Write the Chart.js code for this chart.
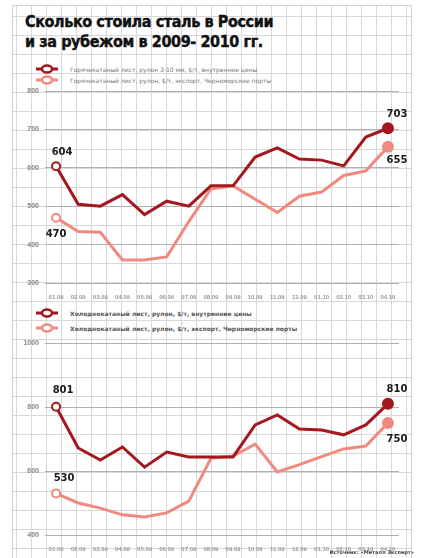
<!DOCTYPE html>
<html>
<head>
<meta charset="utf-8">
<script src="https://cdn.jsdelivr.net/npm/chart.js@4/dist/chart.umd.min.js"></script>
<style>
  body { margin: 0; width: 422px; height: 558px; background: #fff; overflow: hidden; position: relative; font-family: "DejaVu Sans", sans-serif; }
  #paper {
    position: absolute; left: 12px; top: 5px; width: 398px; height: 552px;
    border: 1px solid #d0d0d0;
    background-image: linear-gradient(#d8d8d8 1px, transparent 1px), linear-gradient(90deg, #d8d8d8 1px, transparent 1px);
    background-size: 15px 19px;
    background-position: 3px 10px;
  }
  .title { position: absolute; left: 25px; font-family: "DejaVu Sans Condensed", "DejaVu Sans", sans-serif; font-weight: bold; font-size: 16px; color: #111; letter-spacing: -0.4px; white-space: nowrap; -webkit-text-stroke: 0.4px #111; }
  .leg { position: absolute; left: 36px; height: 10px; font-size: 6px; color: #777; white-space: nowrap; display: flex; align-items: center; }
  .leg svg { margin-right: 12px; }
  .leg.bold { font-weight: bold; color: #555; }
  canvas { position: absolute; left: 0; }
  .src { position: absolute; right: 8px; top: 549px; font-size: 5px; color: #444; font-weight: bold; }
</style>
</head>
<body>
<div id="paper"></div>
<div class="title" style="top:12px">Сколько стоила сталь в России</div>
<div class="title" style="top:32px">и за рубежом в 2009- 2010 гг.</div>

<div class="leg" style="top:64px"><svg width="22" height="10"><line x1="0" y1="5" x2="22" y2="5" stroke="#a3181e" stroke-width="3"/><ellipse cx="11" cy="5" rx="5" ry="3.5" fill="#fff" stroke="#a3181e" stroke-width="2.5"/></svg>Горячекатаный лист, рулон 3-10 мм, $/т, внутренние цены</div>
<div class="leg" style="top:75px"><svg width="22" height="10"><line x1="0" y1="5" x2="22" y2="5" stroke="#f08a80" stroke-width="3"/><ellipse cx="11" cy="5" rx="5" ry="3.5" fill="#fff" stroke="#f08a80" stroke-width="2.5"/></svg>Горячекатаный лист, рулон, $/т, экспорт, Черноморские порты</div>

<div class="leg bold" style="top:308px"><svg width="22" height="10"><line x1="0" y1="5" x2="22" y2="5" stroke="#a3181e" stroke-width="3"/><ellipse cx="11" cy="5" rx="5" ry="3.5" fill="#fff" stroke="#a3181e" stroke-width="2.5"/></svg>Холоднокатаный лист, рулон, $/т, внутренние цены</div>
<div class="leg bold" style="top:323px"><svg width="22" height="10"><line x1="0" y1="5" x2="22" y2="5" stroke="#f08a80" stroke-width="3"/><ellipse cx="11" cy="5" rx="5" ry="3.5" fill="#fff" stroke="#f08a80" stroke-width="2.5"/></svg>Холоднокатаный лист, рулон, $/т, экспорт, Черноморские порты</div>

<canvas id="hot" width="422" height="220" style="top:80px"></canvas>
<canvas id="cold" width="422" height="220" style="top:332px"></canvas>
<div class="src">Источник: «Металл Эксперт»</div>

<script>
const labels = ['01.09', '02.09', '03.09', '04.09', '05.09', '06.09', '07.09', '08.09',
                '09.09', '10.09', '11.09', '12.09', '01.10', '02.10', '03.10', '04.10'];
const hotDomestic = [604, 505, 500, 530, 478, 513, 500, 553, 553, 628, 652, 623, 620, 605, 680, 703];
const hotExport = [470, 434, 432, 360, 360, 368, 460, 545, 553, 518, 484, 526, 537, 580, 592, 655];
const coldDomestic = [801, 672, 634, 675, 612, 659, 644, 644, 644, 744, 775, 731, 728, 713, 744, 810];
const coldExport = [530, 500, 484, 463, 456, 469, 506, 640, 647, 684, 597, 620, 645, 669, 678, 750];
const hotTicks = [300, 800, 100];
const coldTicks = [400, 1000, 200];

const darkRed = '#a3181e';
const lightRed = '#f08a80';

// подписи значений в начале и в конце линий
const endLabels = {
    id: 'endLabels',
    afterDatasetsDraw(chart, args, opts) {
        const ctx = chart.ctx;
        ctx.save();
        ctx.font = 'bold 10px "DejaVu Sans"';
        ctx.fillStyle = '#1a1a1a';
        ctx.textAlign = 'center';
        ctx.textBaseline = 'middle';
        opts.items.forEach(item => {
            const ds = chart.data.datasets[item.ds];
            const pt = chart.getDatasetMeta(item.ds).data[item.idx];
            ctx.fillText(String(ds.data[item.idx]), pt.x + item.dx, pt.y + item.dy);
        });
        ctx.restore();
    }
};

function series(data, color) {
    const last = data.length - 1;
    return {
        data: data,
        borderColor: color,
        borderWidth: 3,
        tension: 0,
        pointRadius: data.map((v, i) => i === 0 ? 4 : (i === last ? 5 : 0)),
        pointBackgroundColor: data.map((v, i) => i === 0 ? '#fff' : color),
        pointBorderColor: color,
        pointBorderWidth: 2
    };
}

function makeChart(id, dark, light, ticks, items) {
    return new Chart(document.getElementById(id), {
        type: 'line',
        data: { labels: labels, datasets: [series(dark, darkRed), series(light, lightRed)] },
        options: {
            responsive: false,
            animation: false,
            layout: { padding: { top: 11, right: 23, left: 0, bottom: 0 } },
            scales: {
                x: {
                    offset: true,
                    grid: { display: false },
                    border: { display: false },
                    ticks: { font: { size: 6, weight: 'bold' }, color: '#999', maxRotation: 0, autoSkip: false, padding: 3 },
                    afterFit: scale => { scale.height = 17; }
                },
                y: {
                    min: ticks[0],
                    max: ticks[1],
                    grid: { color: '#b0b0b0', drawTicks: false },
                    border: { display: false },
                    ticks: {
                        stepSize: ticks[2],
                        font: { size: 7, weight: 'bold' },
                        color: '#888',
                        padding: 6,
                        callback: value => String(value)
                    },
                    afterFit: scale => { scale.width = 45; }
                }
            },
            plugins: {
                legend: { display: false },
                tooltip: { enabled: false },
                endLabels: { items: items }
            }
        },
        plugins: [endLabels]
    });
}

makeChart('hot', hotDomestic, hotExport, hotTicks, [
    { ds: 0, idx: 0, dx: 6, dy: -14 },
    { ds: 1, idx: 0, dx: 0, dy: 17 },
    { ds: 0, idx: 15, dx: 9, dy: -14 },
    { ds: 1, idx: 15, dx: 9, dy: 14 }
]);

makeChart('cold', coldDomestic, coldExport, coldTicks, [
    { ds: 0, idx: 0, dx: 7, dy: -16 },
    { ds: 1, idx: 0, dx: 8, dy: -15 },
    { ds: 0, idx: 15, dx: 9, dy: -14 },
    { ds: 1, idx: 15, dx: 9, dy: 16 }
]);
</script>
</body>
</html>
